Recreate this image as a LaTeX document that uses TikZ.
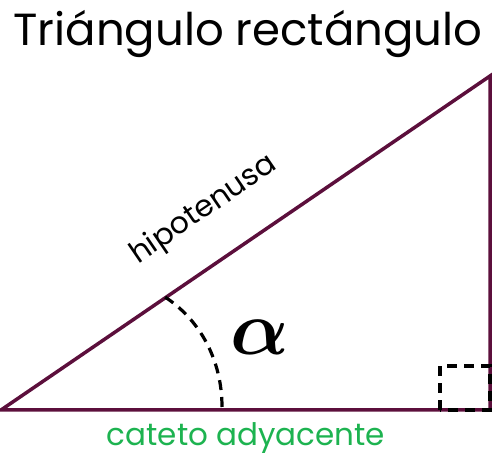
\documentclass[tikz,border=0pt]{standalone}
\usepackage{amsmath}
\usepackage{amssymb}
\usepackage{bm}
\usepackage{fontspec}
\setmainfont{Poppins}
\usepackage{tikz}
\definecolor{wine}{HTML}{5C0F3C}
\definecolor{leaf}{HTML}{1DB350}
\tikzset{
  side/.style={draw=wine, line width=3.5pt, line join=miter},          % triangle side
  dmark/.style={draw=black, line width=3.2pt, dash pattern=on 10pt off 7pt}, % dashed marks
  lbl/.style={inner sep=0pt, text=black},
}

\begin{document}
\begin{tikzpicture}[x=1pt, y=1pt]
  \useasboundingbox (0,0) rectangle (500,457);
  \coordinate (vA) at (1,47);
  \coordinate (vB) at (490,47);
  \coordinate (vC) at (490,381);
  \draw[side] (vA)--(vB)--(vC)--cycle;
  \draw[dmark] (222,50) .. controls (222,97) and (200,137) .. (165,160);
  \draw[dmark] (440,47) rectangle (490,91);
  \node[lbl, font=\fontsize{45}{45}\selectfont] (title) at (248,423) {Triángulo rectángulo};
  \node[lbl, font=\fontsize{30}{30}\selectfont, rotate=34.3] (hyp) at (204,247) {hipotenusa};
  \node[lbl, font=\Huge, scale=3.1] (alf) at (260,120) {$\bm{\alpha}$};
  \node[lbl, text=leaf, font=\fontsize{31}{31}\selectfont] (adj) at (246,19) {cateto adyacente};
\end{tikzpicture}
\end{document}
